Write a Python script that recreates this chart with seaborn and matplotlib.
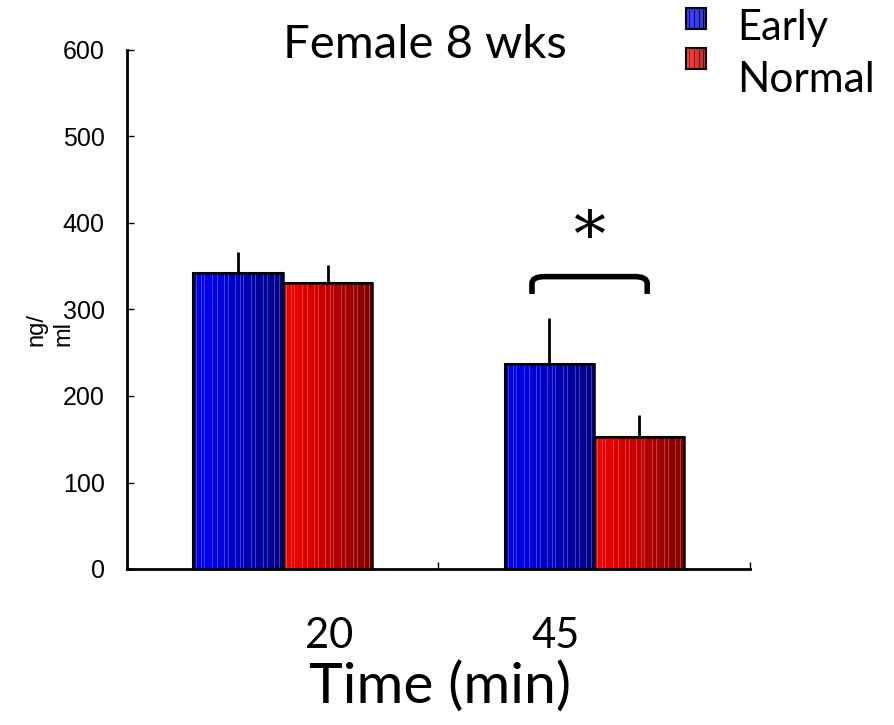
import numpy as np
import pandas as pd
import seaborn as sns
import matplotlib.pyplot as plt
from matplotlib.patches import Rectangle
from matplotlib.path import Path
from matplotlib.patches import PathPatch

# values
times = ['20', '45']
groups = ['Early', 'Normal']
early_mean = [342, 237]
normal_mean = [331, 153]
early_err = [25, 53]
normal_err = [20, 25]
group_colors = {'Early': (0.0, 0.0, 1.0), 'Normal': (1.0, 0.0, 0.0)}

df = pd.DataFrame({
    'time': times * 2,
    'group': ['Early'] * 2 + ['Normal'] * 2,
    'value': early_mean + normal_mean,
    'err': early_err + normal_err,
})

sns.set_theme(style='white')
plt.rcParams['font.family'] = ['Lato', 'DejaVu Sans']
plt.rcParams['text.color'] = 'black'

fig = plt.figure(figsize=(8.95, 7.25), dpi=100)
ax = fig.add_axes([127 / 895, 1 - 569 / 725, (750 - 127) / 895, (569 - 50) / 725])

sns.barplot(data=df, x='time', y='value', hue='group', hue_order=groups,
            palette=group_colors, width=0.575, errorbar=None, gap=0,
            edgecolor='black', linewidth=1.5, legend=False, ax=ax)


def stripe_gradient(rgb, n=90):
    t = np.linspace(0, 1, n)
    shade = 1 - 0.5 * t
    img = np.outer(np.ones(2), shade)[..., None] * np.array(rgb)[None, None, :]
    light = np.zeros(n, dtype=bool)
    pos = np.array([3, 8, 11, 19, 24, 31, 35, 42, 47, 50, 58, 63, 70, 74, 81, 86]) / 90
    light[(pos * n).astype(int)] = True
    img[:, light, :] = img[:, light, :] * 0.75 + 0.25
    return img


# paint the striped gradient over each bar, clipped to the bar
for container, grp in zip(ax.containers, groups):
    for bar, (_, row) in zip(container, df[df.group == grp].iterrows()):
        x0, y0 = bar.get_x(), bar.get_y()
        w, h = bar.get_width(), bar.get_height()
        im = ax.imshow(stripe_gradient(group_colors[grp]), extent=[x0, x0 + w, y0, y0 + h],
                       aspect='auto', interpolation='nearest', zorder=bar.get_zorder() + 0.1)
        im.set_clip_path(bar)
        ax.add_patch(Rectangle((x0, y0), w, h, fill=False, edgecolor='black',
                               linewidth=1.8, zorder=bar.get_zorder() + 0.2))
        cx = x0 + w / 2
        ax.errorbar(cx, row['value'], yerr=[[0], [row['err']]], fmt='none',
                    ecolor='black', elinewidth=2, capsize=0, zorder=1)

ax.set_xlim(-0.5, 1.5)
ax.set_ylim(0, 600)
ax.set_yticks(range(0, 601, 100))
ax.set_xticks([0.5, 1.5])
ax.set_xticklabels([])
ax.tick_params(axis='both', direction='in', length=5, width=1, colors='black',
               labelsize=18, left=True, bottom=True)
ax.tick_params(axis='y', pad=16)
for lbl in ax.get_yticklabels():
    lbl.set_fontfamily(['Liberation Sans', 'DejaVu Sans'])
ax.set_xlabel('')
ax.set_ylabel('')
sns.despine(ax=ax)
for s in ['left', 'bottom']:
    ax.spines[s].set_color('black')
    ax.spines[s].set_linewidth(2)

# category labels sit off-centre in the reference
ax.text(0.15, -0.13, times[0], transform=ax.get_xaxis_transform(), ha='center', va='center', fontsize=30)
ax.text(0.875, -0.13, times[1], transform=ax.get_xaxis_transform(), ha='center', va='center', fontsize=30)
fig.text(440 / 895, 1 - 687 / 725, 'Time (min)', ha='center', va='center', fontsize=41)
fig.text(425 / 895, 1 - 45 / 725, 'Female 8 wks', ha='center', va='center', fontsize=34)
fig.text(50 / 895, 1 - 346 / 725, 'ng/\nml', rotation=90, ha='center', va='bottom',
         fontsize=17, family=['Liberation Sans', 'DejaVu Sans'], linespacing=1.3,
         multialignment='left')

# significance bracket
bx0, bx1, by0, by1, r = 0.80, 1.17, 318, 338, 0.04
verts = [(bx0, by0), (bx0, by1 - 8), (bx0, by1), (bx0 + r, by1), (bx1 - r, by1),
         (bx1, by1), (bx1, by1 - 8), (bx1, by0)]
codes = [Path.MOVETO, Path.LINETO, Path.CURVE3, Path.CURVE3, Path.LINETO,
         Path.CURVE3, Path.CURVE3, Path.LINETO]
ax.add_patch(PathPatch(Path(verts, codes), fill=False, lw=4, edgecolor='black', capstyle='butt'))
ax.text(0.985, 381, '*', ha='center', va='center', fontsize=46,
        family=['DejaVu Serif', 'DejaVu Sans'])

# legend drawn by hand
for i, grp in enumerate(groups):
    ytop = [8, 48][i]
    lax = fig.add_axes([686 / 895, 1 - (ytop + 21) / 725, 20 / 895, 21 / 725])
    lax.imshow(stripe_gradient(group_colors[grp], n=20), aspect='auto', interpolation='nearest')
    lax.set_xticks([])
    lax.set_yticks([])
    for s in lax.spines.values():
        s.set_linewidth(1.5)
        s.set_color('black')
fig.text(737 / 895, 1 - 28 / 725, groups[0], ha='left', va='center', fontsize=30)
fig.text(737 / 895, 1 - 80 / 725, groups[1], ha='left', va='center', fontsize=30.5)

fig.savefig('out.png', dpi=100)
